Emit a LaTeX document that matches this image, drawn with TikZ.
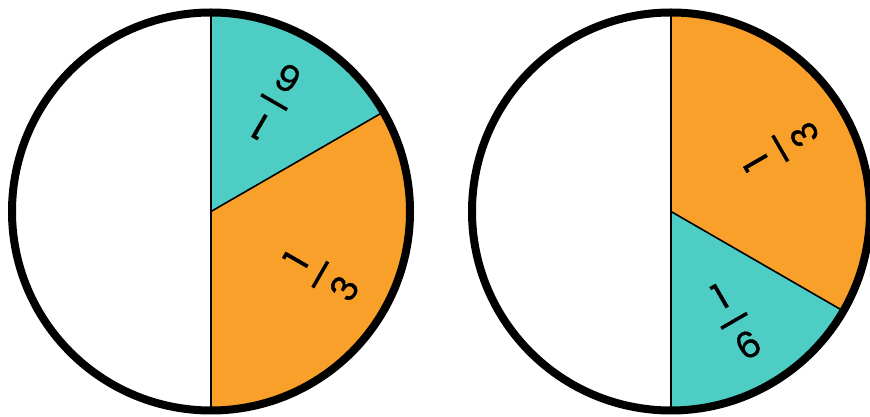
\documentclass[tikz,border=0pt]{standalone}
\usepackage{fontspec}
\setmainfont{Poppins}
\newfontfamily\fracfont{Poppins}[FakeBold=1.2]
\definecolor{pieteal}{HTML}{4ECDC4}
\definecolor{pieorange}{HTML}{F9A02A}
\newcommand{\fracbar}[2]{#1\\\rule[11pt]{30pt}{3.5pt}\\#2}
\begin{document}
\begin{tikzpicture}[x=1pt,y=1pt,
  rim/.style={line width=8pt},
  cut/.style={line width=1.6pt},
  fraclabel/.style={inner sep=0pt, align=center, font=\fracfont\fontsize{36}{28}\selectfont}]
\useasboundingbox (0,0) rectangle (870,417);
\coordinate (lc) at (211,205.5);
\coordinate (rc) at (671,205.5);
% left pie
\fill[pieteal] (lc) -- ++(90:199) arc[start angle=90, end angle=30, radius=199] -- cycle;
\fill[pieorange] (lc) -- ++(30:199) arc[start angle=30, end angle=-90, radius=199] -- cycle;
\draw[cut] (lc) -- ++(30:199);
\draw[cut] ([yshift=199]lc) -- ([yshift=-199]lc);
\draw[rim] (lc) circle[radius=199];
\node[fraclabel, rotate=150] (lsixth) at ([shift={(60:126)}]lc) {\fracbar{1}{6}};
\node[fraclabel, rotate=60] (lthird) at ([shift={(-30:126)}]lc) {\fracbar{1}{3}};
% right pie
\fill[pieorange] (rc) -- ++(90:199) arc[start angle=90, end angle=-30, radius=199] -- cycle;
\fill[pieteal] (rc) -- ++(-30:199) arc[start angle=-30, end angle=-90, radius=199] -- cycle;
\draw[cut] (rc) -- ++(-30:199);
\draw[cut] ([yshift=199]rc) -- ([yshift=-199]rc);
\draw[rim] (rc) circle[radius=199];
\node[fraclabel, rotate=120] (rthird) at ([shift={(30:126)}]rc) {\fracbar{1}{3}};
\node[fraclabel, rotate=30] (rsixth) at ([shift={(-60:126)}]rc) {\fracbar{1}{6}};
\end{tikzpicture}
\end{document}
